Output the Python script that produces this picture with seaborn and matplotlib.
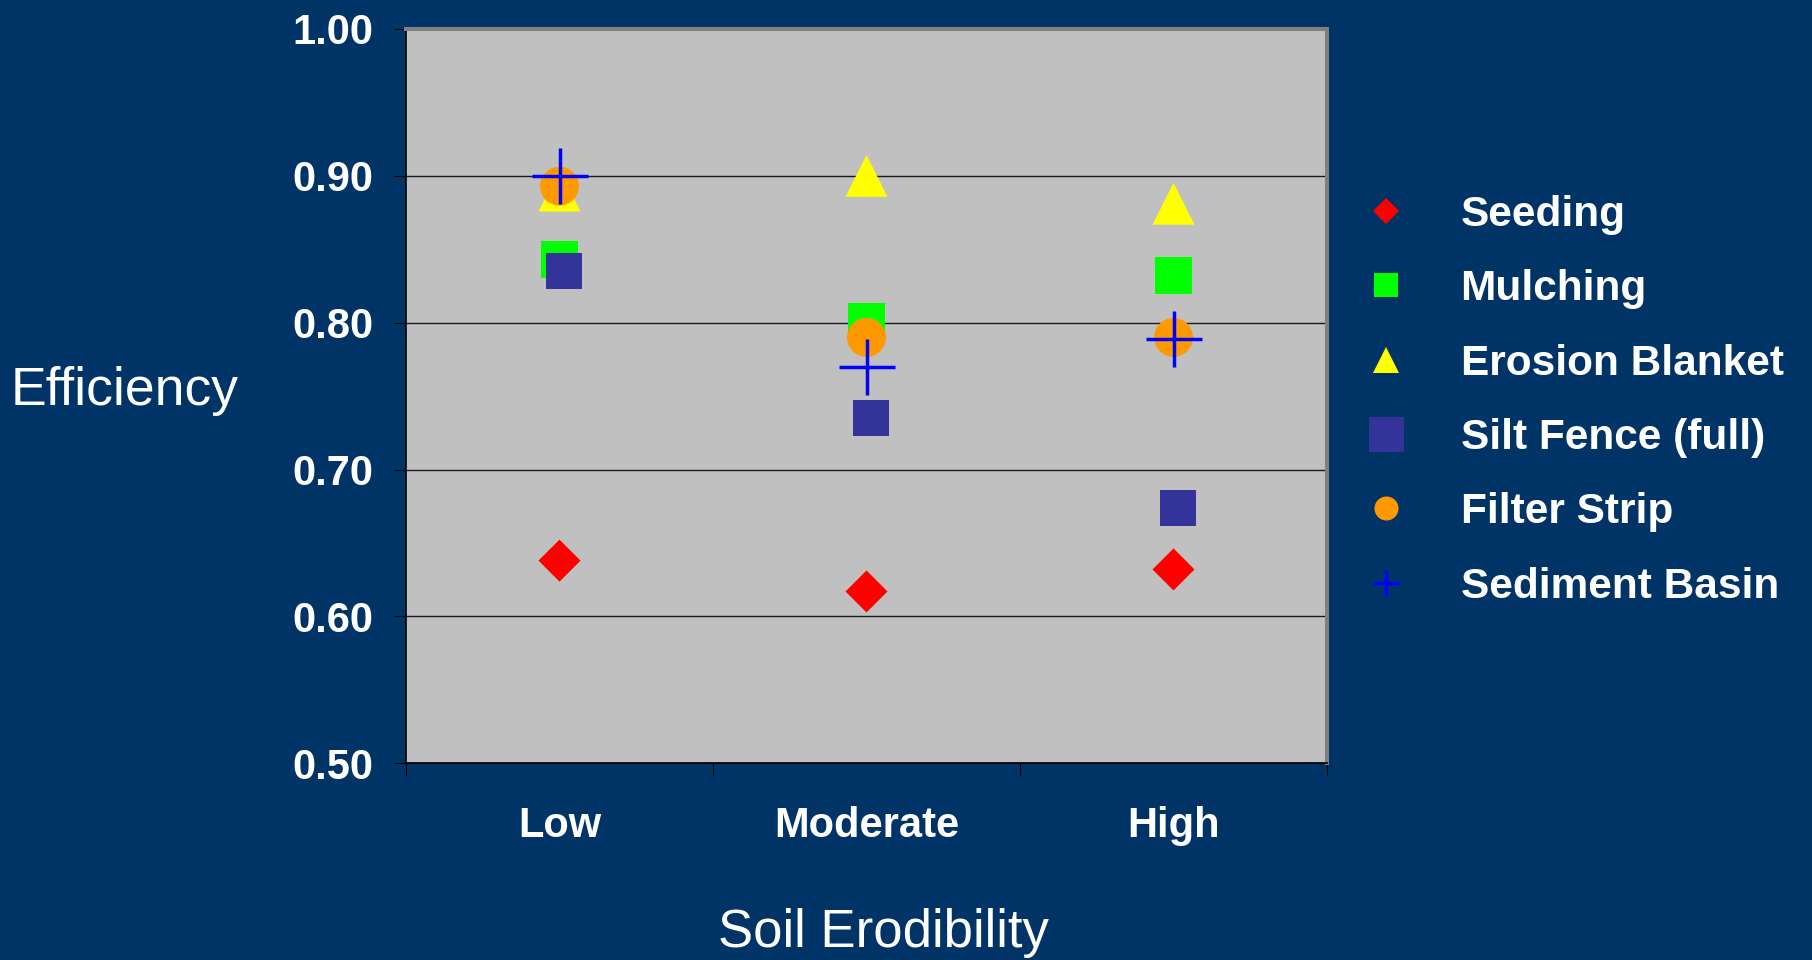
import matplotlib
matplotlib.use("Agg")
import matplotlib.pyplot as plt
from matplotlib.lines import Line2D
from matplotlib.transforms import offset_copy
import seaborn as sns

# Sediment-control efficiency by soil erodibility class
categories = ["Low", "Moderate", "High"]
seeding = [0.638, 0.617, 0.632]
mulching = [0.843, 0.801, 0.832]
erosion_blanket = [0.890, 0.900, 0.881]
silt_fence_full = [0.835, 0.735, 0.674]
filter_strip = [0.893, 0.790, 0.790]
sediment_basin = [0.900, 0.770, 0.789]

series_names = ["Seeding", "Mulching", "Erosion Blanket",
                "Silt Fence (full)", "Filter Strip", "Sediment Basin"]
y_ticks = [0.50, 0.60, 0.70, 0.80, 0.90, 1.00]

sns.set_style("white")
plt.rcParams["font.family"] = ["Liberation Sans", "DejaVu Sans"]

W, H = 1812, 960
BG = "#003366"
fig = plt.figure(figsize=(W / 100, H / 100), dpi=100, facecolor=BG)


def fx(px):
    return px / W


def fy(py):
    return 1 - py / H


ax_l, ax_r, ax_t, ax_b = 406, 1327, 29, 763.3
ax = fig.add_axes([fx(ax_l), fy(ax_b), fx(ax_r - ax_l), (ax_b - ax_t) / H])
ax.set_facecolor("#C0C0C0")
ax.set_axisbelow(True)

# (values, marker, colour, size in points, edge width)
styles = [
    (seeding, "D", "#FF0000", 21.4, 0),
    (mulching, "s", "#00FF00", 27.0, 0),
    (erosion_blanket, "^", "#FFFF00", 30.2, 0),
    (silt_fence_full, "s", "#333399", 26.0, 0),
    (filter_strip, "o", "#FF9900", 28.0, 0),
    (sediment_basin, "+", "#0000FF", 41.0, 2.5),
]

for i, (vals, mk, col, ms, lw) in enumerate(styles):
    kw = {}
    if i == 3:
        kw["transform"] = offset_copy(ax.transData, fig=fig, x=4.5, y=0, units="dots")
    sns.scatterplot(x=categories, y=vals, marker=mk, s=ms ** 2, color=col,
                    linewidth=lw, edgecolor=col if lw else "none",
                    ax=ax, zorder=3 + i, legend=False, **kw)

ax.set_xlim(-0.5, len(categories) - 0.5)
ax.set_ylim(0.5, 1.0)
ax.set_xlabel("")
ax.set_ylabel("")

ax.set_yticks(y_ticks)
ax.set_yticklabels([f"{v:.2f}" for v in y_ticks])
ax.set_xticks(range(len(categories)))
ax.set_xticklabels(categories)
ax.set_xticks([k - 0.5 for k in range(len(categories) + 1)], minor=True)

for lab in ax.get_yticklabels() + ax.get_xticklabels():
    lab.set_fontsize(30)
    lab.set_fontweight("bold")
    lab.set_color("white")

ax.tick_params(axis="y", which="major", direction="out", length=8.6, width=0.8,
               color="black", pad=15, left=True)
ax.tick_params(axis="x", which="major", length=0, pad=31, bottom=True)
ax.tick_params(axis="x", which="minor", direction="out", length=8.6, width=0.8,
               color="black", bottom=True)

ax.yaxis.grid(True, color="#1a1a1a", linewidth=1.0)
ax.xaxis.grid(False)

for side in ("top", "right"):
    ax.spines[side].set_color("#808080")
    ax.spines[side].set_linewidth(2.9)
    ax.spines[side].set_visible(True)
for side in ("left", "bottom"):
    ax.spines[side].set_color("black")
    ax.spines[side].set_linewidth(1.2)
    ax.spines[side].set_visible(True)

fig.text(fx(11), fy(405), "Efficiency", ha="left", va="baseline",
         fontsize=38.5, color="white")
fig.text(fx(883), fy(947), "Soil Erodibility", ha="center", va="baseline",
         fontsize=38, color="white")

legend_sizes = [13.7, 17.3, 19.4, 25.2, 17.3, 19.4]
handles = []
for (vals, mk, col, ms, lw), lms in zip(styles, legend_sizes):
    handles.append(Line2D([], [], linestyle="none", marker=mk, markersize=lms,
                          color=col, markerfacecolor=col,
                          markeredgecolor=col if lw else "none",
                          markeredgewidth=lw))

leg = ax.legend(handles, series_names, loc="upper left",
                bbox_to_anchor=(fx(1361), fy(195)), bbox_transform=fig.transFigure,
                frameon=False, prop={"size": 30.5, "weight": "bold"},
                labelcolor="white", handlelength=1.2, handletextpad=1.15,
                labelspacing=0.81, borderpad=0, borderaxespad=0)

fig.savefig("out.png", dpi=100, facecolor=BG)
